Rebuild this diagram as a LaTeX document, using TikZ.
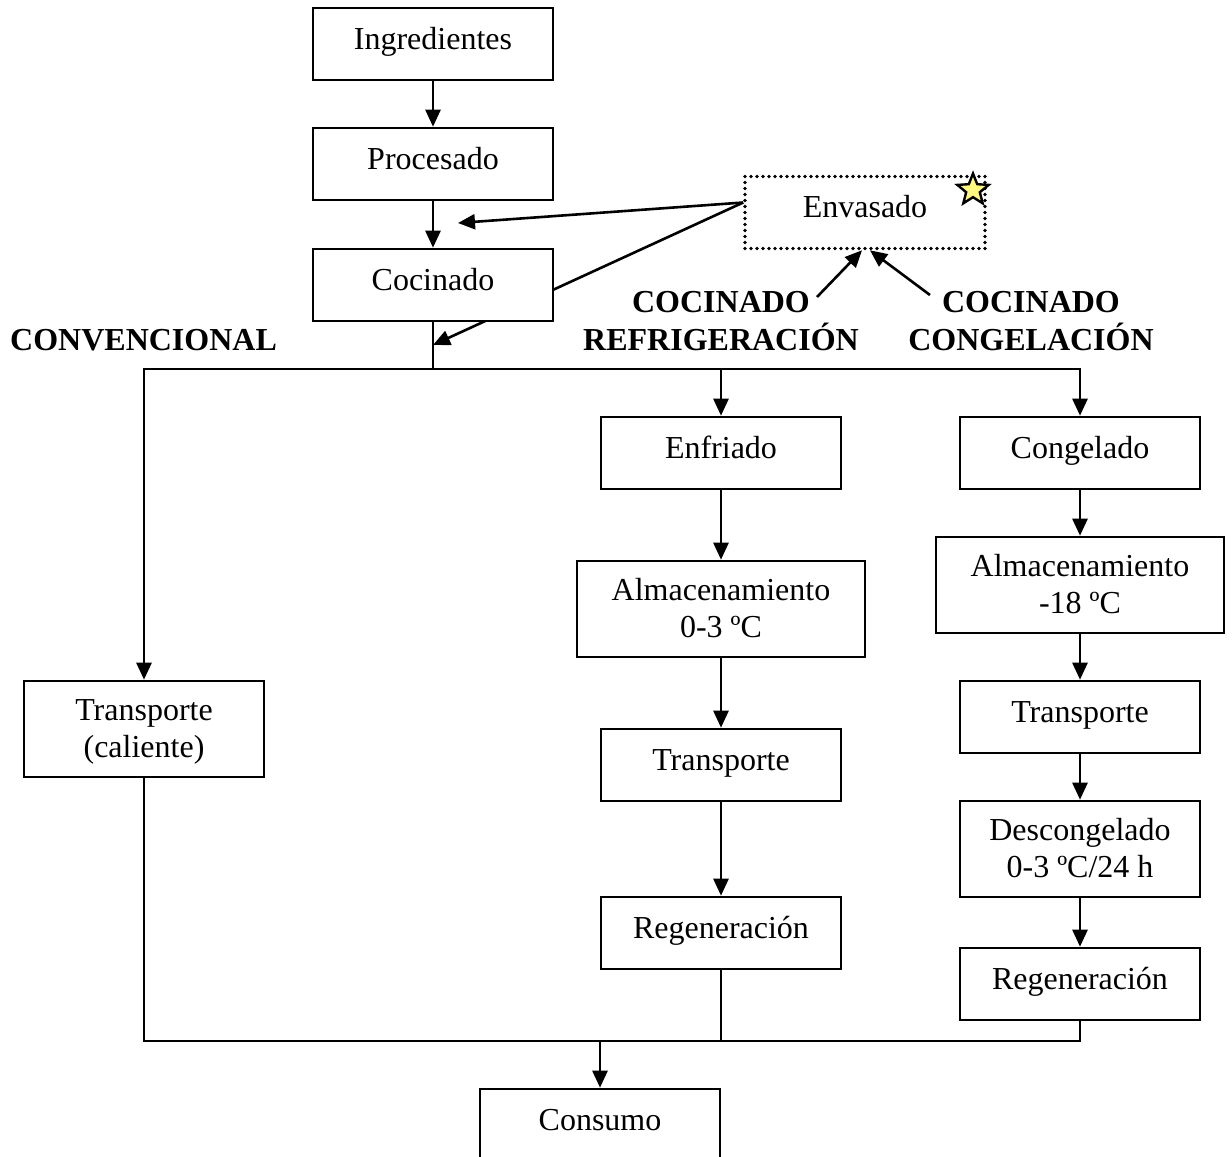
\documentclass[tikz,border=0pt]{standalone}
\usepackage{fontspec}
\setmainfont{Liberation Serif}
\usetikzlibrary{arrows.meta,shapes.geometric,backgrounds}
% two centred lines whose baseline is that of the first line
\newcommand{\twoline}[2]{\begin{tabular}[t]{@{}c@{}}#1\\#2\end{tabular}}
\begin{document}
\begin{tikzpicture}[x=1pt,y=-1pt,
  every node/.style={font=\fontsize{32}{37}\selectfont},
  stepbox/.style={draw, line width=2.6pt, fill=white, inner sep=0pt,
    minimum width=240pt, minimum height=72pt, text height=22pt, text depth=12pt},
  tallbox/.style={stepbox, minimum height=96pt, text height=22pt, text depth=40pt},
  dotbox/.style={stepbox, line width=3.6pt, line cap=round, dash pattern=on 0pt off 6pt},
  flow/.style={line width=2.6pt},
  arr/.style={flow, -{Triangle[length=17pt,width=15pt]}},
  tag/.style={font=\bfseries\fontsize{32}{37}\selectfont, inner sep=0pt}
]
\useasboundingbox (0,0) rectangle (1232,1157);

% main line
\node[stepbox] (ing)  at (433,44)    {Ingredientes};
\node[stepbox] (pro)  at (433,164)   {Procesado};
\node[stepbox] (coc)  at (433,285)   {Cocinado};
\node[dotbox]  (env)  at (865,212.5) {Envasado};
\node[star, star points=5, star point ratio=2.3, minimum size=33pt, inner sep=0pt,
      draw, line width=2.4pt, fill=yellow!50] (star) at (973,190) {};

% branch labels
\node[tag, anchor=base west] (conv) at (10,350) {CONVENCIONAL};
\node[tag, anchor=base] (refr) at (721,312) {\twoline{COCINADO}{REFRIGERACIÓN}};
\node[tag, anchor=base] (cong) at (1031,312) {\twoline{COCINADO}{CONGELACIÓN}};

% conventional branch
\node[tallbox] (tcal) at (144,729) {\twoline{Transporte}{(caliente)}};

% chilled branch
\node[stepbox] (enf)  at (721,453) {Enfriado};
\node[tallbox, minimum width=288pt] (alm1) at (721,609) {\twoline{Almacenamiento}{0-3 ºC}};
\node[stepbox] (tra1) at (721,765) {Transporte};
\node[stepbox] (reg1) at (721,933) {Regeneración};

% frozen branch
\node[stepbox] (cgl)  at (1080,453) {Congelado};
\node[tallbox, minimum width=288pt] (alm2) at (1080,585) {\twoline{Almacenamiento}{-18 ºC}};
\node[stepbox] (tra2) at (1080,717) {Transporte};
\node[tallbox] (des)  at (1080,849) {\twoline{Descongelado}{0-3 ºC/24 h}};
\node[stepbox] (reg2) at (1080,984) {Regeneración};

% end
\node[stepbox] (cons) at (600,1125) {Consumo};

% junction points
\coordinate (split) at (433,369);
\coordinate (lft)   at (144,369);
\coordinate (mid)   at (721,369);
\coordinate (rgt)   at (1080,369);
\coordinate (jl)    at (144,1041);
\coordinate (jm)    at (721,1041);
\coordinate (jr)    at (1080,1041);
\coordinate (jc)    at (600,1041);
\coordinate (pin1)  at (458,223);
\coordinate (pin2)  at (433,345);
\coordinate (from1) at (817,297);
\coordinate (from2) at (930,295);

% packaging links (the lower one passes behind Cocinado)
\begin{scope}[on background layer]
  \draw[arr] ([yshift=10pt]env.west) -- (pin1);
  \draw[arr] ([yshift=10pt]env.west) -- (pin2);
\end{scope}
\draw[arr] (from1) -- ([xshift=-3pt]env.south);
\draw[arr] (from2) -- ([xshift=5pt]env.south);

% flow
\draw[arr] (ing.south) -- (pro.north);
\draw[arr] (pro.south) -- (coc.north);
\draw[flow] (coc.south) -- (split);
\draw[flow, line cap=rect] (lft) -- (rgt);
\draw[arr] (lft) -- (tcal.north);
\draw[arr] (mid) -- (enf.north);
\draw[arr] (rgt) -- (cgl.north);

\draw[arr] (enf.south)  -- (alm1.north);
\draw[arr] (alm1.south) -- (tra1.north);
\draw[arr] (tra1.south) -- (reg1.north);

\draw[arr] (cgl.south)  -- (alm2.north);
\draw[arr] (alm2.south) -- (tra2.north);
\draw[arr] (tra2.south) -- (des.north);
\draw[arr] (des.south)  -- (reg2.north);

\draw[flow] (tcal.south) -- (jl);
\draw[flow] (reg1.south) -- (jm);
\draw[flow] (reg2.south) -- (jr);
\draw[flow, line cap=rect] (jl) -- (jr);
\draw[arr] (jc) -- (cons.north);
\end{tikzpicture}
\end{document}
